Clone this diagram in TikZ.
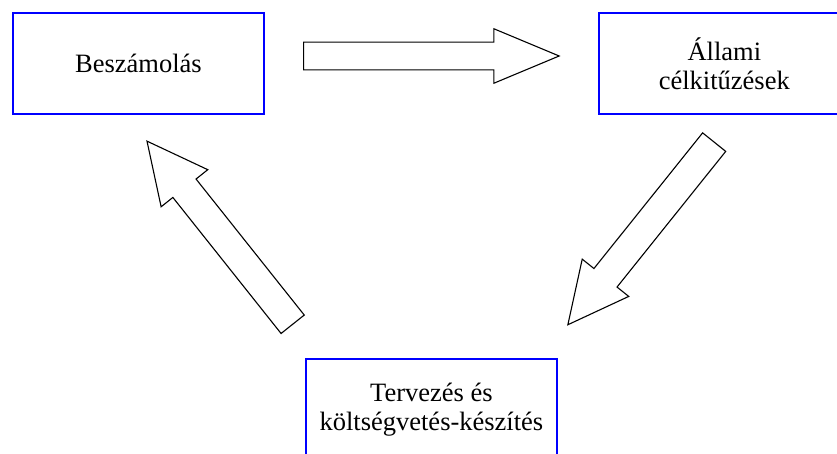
\documentclass[tikz,border=0pt]{standalone}
\usepackage{fontspec}
\setmainfont{Liberation Serif}
\usetikzlibrary{positioning,shapes.arrows,calc}

\begin{document}
\begin{tikzpicture}[
    x=1pt, y=-1pt,
    font=\fontsize{26.5}{29}\selectfont,
    box/.style={draw=blue, line width=1.8pt, align=center, inner sep=0pt,
                minimum width=251pt, minimum height=101pt},
    barrow/.style={single arrow, draw=black, line width=1.1pt, fill=white,
                   inner xsep=0pt, anchor=tail},
    flat/.style={barrow, minimum height=255.6pt, inner ysep=13.3pt,
                 single arrow head extend=13.4pt, single arrow tip angle=45.3},
    slant/.style={barrow, minimum height=234pt, inner ysep=14.25pt,
                  single arrow head extend=15pt, single arrow tip angle=52.7}
]
\useasboundingbox (0,0) rectangle (837,454);

% the three stages of the cycle
\node[box] (besz) at (138.5,63.5) {Beszámolás};
\node[box, right=333pt of besz] (allam) {Állami\\célkitűzések};
\coordinate (mid) at ($(besz.south)!0.5!(allam.south)$);
\node[box, below=243pt of mid] (terv) {Tervezés és\\költségvetés-készítés};

% block arrows between the stages
\node[flat] (a1) at (303,56) {};
\node[slant, rotate=231.3] (a2) at (714.5,141.7) {};
\node[slant, rotate=128.5] (a3) at (293,324.7) {};
\end{tikzpicture}
\end{document}
